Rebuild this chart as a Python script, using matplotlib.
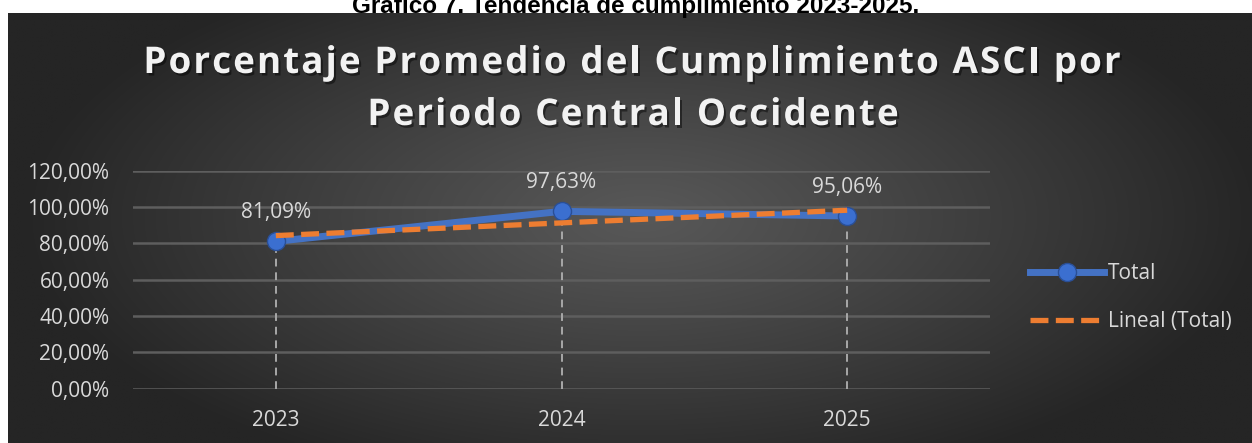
import numpy as np
import matplotlib
matplotlib.use('Agg')
import matplotlib.pyplot as plt
import matplotlib.patheffects as pe
from matplotlib.lines import Line2D
from matplotlib.font_manager import FontProperties, findfont, get_font

# data
years = ['2023', '2024', '2025']
total = [81.09, 97.63, 95.06]
yticks = [0, 20, 40, 60, 80, 100, 120]

caption = 'Gráfico 7. Tendencia de cumplimiento 2023-2025.'
title_lines = ['Porcentaje Promedio del Cumplimiento ASCI por', 'Periodo Central Occidente']

W, H = 1252, 443
DPI = 100
fig = plt.figure(figsize=(W / DPI, H / DPI), dpi=DPI)
fig.patch.set_facecolor('white')

def fx(px): return px / W
def fy(py): return 1 - py / H

# caption, cut at top like the source page
fig.text(fx(636), fy(12.5), caption, ha='center', va='baseline',
         fontsize=17.5, fontweight='bold', family='Liberation Sans', color='black')

# dark radial gradient panel
bg = fig.add_axes([fx(8), 0, 1 - fx(8), fy(13)])
gx, gy = np.meshgrid(np.linspace(-1, 1, 600), np.linspace(-1, 1, 220))
r = np.sqrt(((gx - 0.02) / 1.0) ** 2 + ((gy + 0.05) / 1.3) ** 2)
r = np.clip(r, 0, 1)
v = (0x58 - (0x58 - 0x25) * r ** 1.1) / 255
bg.imshow(np.dstack([v, v, v]), aspect='auto', extent=[0, 1, 0, 1], interpolation='bilinear')
bg.set_axis_off()

# title with letter spacing, char by char
tprop = FontProperties(family='Open Sans', weight='bold', size=26.5)
tfont = get_font(findfont(tprop))
tfont.set_size(26.5, DPI)
shadow = [pe.withSimplePatchShadow(offset=(1.5, -1.8), shadow_rgbFace='black', alpha=0.45)]

def spaced_line(s, xc, ybase, spacing):
    adv = []
    for ch in s:
        g = tfont.load_char(ord(ch))
        adv.append(g.linearHoriAdvance / 65536)
    width = sum(adv) + spacing * (len(s) - 1)
    x0 = xc - width / 2
    for ch, a in zip(s, adv):
        fig.text(fx(x0), fy(ybase), ch, ha='left', va='baseline', fontproperties=tprop,
                 color='#f2f2f2', path_effects=shadow)
        x0 += a + spacing

spaced_line(title_lines[0], 632, 73, 2.1)
spaced_line(title_lines[1], 633, 125, 2.1)

ax = fig.add_axes([fx(133), fy(388.7), fx(990) - fx(133), fy(170.7) - fy(388.7)])
ax.patch.set_alpha(0)
x = np.arange(len(years))
fit = np.polyval(np.polyfit(x, total, 1), x)

for yt in yticks:
    ax.axhline(yt, color='#5e5e5e', lw=1.8, zorder=0)
for xi, t in zip(x, total):
    ax.plot([xi, xi], [0, t], color='#a8a8a8', lw=1.4, ls=(0, (4, 3)), zorder=1)

ax.plot(x, total, color='#4472C4', lw=5, solid_capstyle='round', zorder=2)
ax.plot(x, total, ls='none', marker='o', ms=13, mfc='#3b6fd0', mec='#2a4f96', mew=1, zorder=3)
ax.plot(x, fit, color='#ED7D31', lw=3.8, ls=(0, (3.4, 1.4)), zorder=5)

for xi, t in zip(x, total):
    ax.annotate(f'{t:.2f}%'.replace('.', ','), (xi, t), xytext=(0, 13), textcoords='offset points',
                ha='center', va='bottom', fontsize=15, family='Open Sans', color='#d9d9d9')

ax.set_xlim(-0.5, 2.5)
ax.set_ylim(0, 120)
ax.set_yticks(yticks)
ax.set_yticklabels([f'{v:.2f}%'.replace('.', ',') for v in yticks])
ax.set_xticks(x)
ax.set_xticklabels(years)
ax.tick_params(length=0, labelsize=15, labelcolor='#d9d9d9')
ax.tick_params(axis='y', pad=17)
ax.tick_params(axis='x', pad=15)
for lbl in ax.get_xticklabels() + ax.get_yticklabels():
    lbl.set_family('Open Sans')
for s in ax.spines.values():
    s.set_visible(False)

handles = [Line2D([], [], color='#4472C4', lw=5, marker='o', ms=13, mfc='#3b6fd0', mec='#2a4f96'),
           Line2D([], [], color='#ED7D31', lw=3.8, ls=(0, (3.4, 1.4)))]
leg = fig.legend(handles, ['Total', 'Lineal (Total)'], loc='center left',
                 bbox_to_anchor=(fx(1011), fy(297.5)), frameon=False, handlelength=3.55,
                 handletextpad=0.2, labelspacing=1.3, prop={'family': 'Open Sans', 'size': 15})
for t in leg.get_texts():
    t.set_color('#d9d9d9')

fig.savefig('out.png', dpi=DPI, facecolor='white')
